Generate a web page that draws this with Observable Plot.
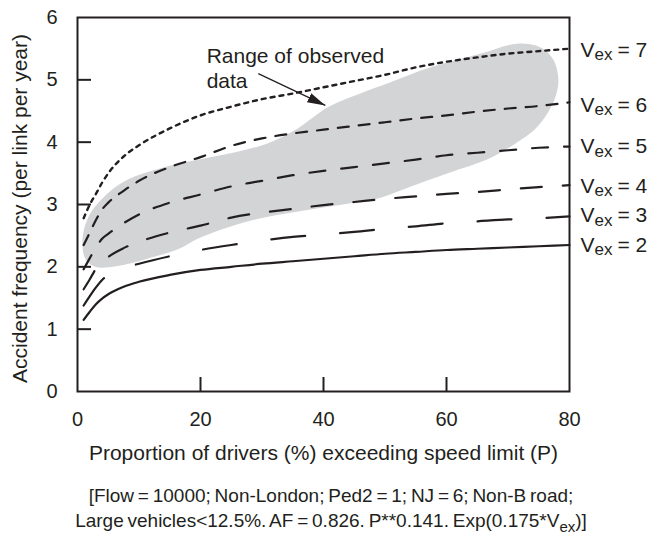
<!DOCTYPE html>
<html><head><meta charset="utf-8">
<script src="https://cdn.jsdelivr.net/npm/d3@7"></script>
<script src="https://cdn.jsdelivr.net/npm/@observablehq/plot@0.6"></script>
<style>
body{margin:0;background:#fff;}
#chart svg{display:block;}
#cap{font-family:"Liberation Sans",Arial,sans-serif;font-size:19px;word-spacing:-1.5px;line-height:25px;text-align:center;color:#231f20;margin-top:13px;width:662px;}
#cap sub{font-size:15px;vertical-align:-5px;line-height:0;word-spacing:0;}
</style></head><body><div id="chart"></div><div id="cap"></div>
<script>
// ---- data ----
const pValues = [1, 2, 3, 4, 5, 7.5, 10, 15, 20, 25, 30, 35, 40, 45, 50, 55, 60, 65, 70, 75, 80];
const vexLevels = [2, 3, 4, 5, 6, 7];
const afVex2 = [1.15, 1.28, 1.40, 1.49, 1.56, 1.68, 1.76, 1.87, 1.95, 2.00, 2.05, 2.09, 2.13, 2.17, 2.21, 2.24, 2.27, 2.29, 2.31, 2.33, 2.35];
const afVex3 = [1.38, 1.53, 1.67, 1.79, 1.87, 1.98, 2.05, 2.17, 2.27, 2.35, 2.42, 2.48, 2.52, 2.56, 2.61, 2.65, 2.70, 2.73, 2.76, 2.78, 2.81];
const afVex4 = [1.64, 1.80, 1.97, 2.08, 2.16, 2.30, 2.40, 2.55, 2.66, 2.79, 2.87, 2.93, 2.99, 3.04, 3.09, 3.13, 3.17, 3.20, 3.24, 3.28, 3.31];
const afVex5 = [1.96, 2.14, 2.31, 2.45, 2.53, 2.70, 2.84, 3.03, 3.16, 3.29, 3.38, 3.47, 3.54, 3.60, 3.66, 3.72, 3.79, 3.83, 3.87, 3.91, 3.93];
const afVex6 = [2.35, 2.55, 2.75, 2.92, 3.03, 3.22, 3.38, 3.60, 3.76, 3.94, 4.06, 4.14, 4.20, 4.26, 4.32, 4.38, 4.43, 4.49, 4.54, 4.58, 4.64];
const afVex7 = [2.78, 3.00, 3.17, 3.35, 3.50, 3.77, 3.95, 4.22, 4.43, 4.57, 4.69, 4.78, 4.88, 4.98, 5.08, 5.20, 5.29, 5.36, 5.42, 5.46, 5.50];
const labelAF = [2.35, 2.82, 3.30, 3.93, 4.60, 5.48];

// outline of "range of observed data" region (P, AF)
const rangeP  = [0.8, 1.1, 2.1, 3.7, 5.9, 8.6, 12.4, 16.7, 21.6, 26.5, 30.9, 35.8, 40.7, 46, 50.9, 57.4, 65.5, 71.5, 75.3, 77.4, 78.2, 77.7, 76.4, 74.5, 72, 67.2, 60.2, 53.7, 49.3, 44.4, 37.9, 28.1, 20, 16.7, 12.4, 7, 2.9, 1.3];
const rangeAF = [2.37, 2.62, 2.86, 3.06, 3.26, 3.42, 3.55, 3.66, 3.76, 3.86, 3.98, 4.22, 4.56, 4.78, 4.96, 5.20, 5.42, 5.58, 5.52, 5.32, 4.99, 4.72, 4.46, 4.22, 4.03, 3.75, 3.50, 3.27, 3.11, 3.02, 2.92, 2.74, 2.47, 2.30, 2.16, 2.02, 2.00, 2.12];

const annotationText = ["Range of observed", "data"];
const annotationP = [21, 21];
const annotationAF = [5.38, 4.98];
const arrowStart = [29.4, 5.10];
const arrowEnd = [40.3, 4.59];

const xTicks = [0, 20, 40, 60, 80];
const yTicks = [0, 1, 2, 3, 4, 5, 6];
const xInnerTicks = [20, 40, 60];
const yInnerTicks = [1, 2, 3, 4, 5];
const xTitle = "Proportion of drivers (%) exceeding speed limit (P)";
const yTitle = "Accident frequency (per link per year)";
const captionLines = ["[Flow = 10000; Non-London; Ped2 = 1; NJ = 6; Non-B road;", "Large vehicles<12.5%. AF = 0.826. P**0.141. Exp(0.175*V<sub>ex</sub>)]"];

// ---- build tables ----
const afSeries = [afVex2, afVex3, afVex4, afVex5, afVex6, afVex7];
const curves = vexLevels.map((v, k) => pValues.map((p, i) => ({vex: v, p, af: afSeries[k][i]})));
const rangeShape = rangeP.map((p, i) => ({p, af: rangeAF[i]}));
const labels = vexLevels.map((v, i) => ({vex: v, af: labelAF[i]}));
const annotations = annotationText.map((t, i) => ({t, p: annotationP[i], af: annotationAF[i]}));

const ink = "#231f20";
const dashStyles = ["none", "34,35", "21,21", "16,16", "11,10", "4,5"];
const font = 20;
const titleFont = 21;

function filledArrow(color) {
  const m = d3.create("svg:marker")
    .attr("viewBox", "-18 -6 20 12")
    .attr("markerWidth", 20)
    .attr("markerHeight", 12)
    .attr("markerUnits", "userSpaceOnUse")
    .attr("orient", "auto")
    .attr("refX", 0).attr("refY", 0)
    .attr("fill", color).attr("stroke", "none");
  m.append("path").attr("d", "M-18,-5L0,0L-18,5Z");
  return m.node();
}

const chart = Plot.plot({
  width: 662,
  height: 470,
  marginTop: 17,
  marginRight: 93,
  marginBottom: 79,
  marginLeft: 77,
  style: {fontFamily: "'Liberation Sans', Arial, sans-serif", fontSize: font + "px", color: ink, background: "#fff"},
  x: {domain: [0, 80]},
  y: {domain: [0, 6]},
  marks: [
    Plot.line(rangeShape, {x: "p", y: "af", fill: "#d3d4d6", stroke: null, curve: "catmull-rom-closed"}),
    ...curves.map((c, k) => Plot.line(c, {x: "p", y: "af", stroke: ink, strokeWidth: k === 5 ? 2.4 : 2.2, strokeDasharray: dashStyles[k], curve: "monotone-x"})),
    Plot.frame({stroke: ink, strokeWidth: 2}),
    Plot.ruleX(xInnerTicks, {x: d => d, y1: 0, y2: 0, insetBottom: 14, stroke: ink, strokeWidth: 2}),
    Plot.ruleY(yInnerTicks, {y: d => d, x1: 0, x2: 0, insetRight: -14, stroke: ink, strokeWidth: 2}),
    Plot.axisX(xTicks, {tickSize: 0, tickPadding: 20, fontSize: font, tickFormat: d => String(d), label: null}),
    Plot.axisY(yTicks, {tickSize: 0, tickPadding: 20, fontSize: font, tickFormat: d => String(d), label: null}),
    Plot.text([xTitle], {frameAnchor: "bottom", textAnchor: "middle", lineAnchor: "middle", dy: 62, fontSize: titleFont, fill: ink}),
    Plot.text([yTitle], {frameAnchor: "left", textAnchor: "middle", lineAnchor: "middle", rotate: -90, dx: -57, dy: 4, fontSize: titleFont, fill: ink}),
    Plot.text(labels, {frameAnchor: "right", y: "af", text: () => "V", textAnchor: "start", lineAnchor: "middle", dx: 11, fontSize: titleFont, fill: ink}),
    Plot.text(labels, {frameAnchor: "right", y: "af", text: () => "ex", textAnchor: "start", lineAnchor: "middle", dx: 25, dy: 5, fontSize: 17, fill: ink}),
    Plot.text(labels, {frameAnchor: "right", y: "af", text: d => "= " + d.vex, textAnchor: "start", lineAnchor: "middle", dx: 48, fontSize: titleFont, fill: ink}),
    Plot.text(annotations, {x: "p", y: "af", text: "t", textAnchor: "start", lineAnchor: "middle", fontSize: titleFont, fill: ink}),
    Plot.link([0], {x1: () => arrowStart[0], y1: () => arrowStart[1], x2: () => arrowEnd[0], y2: () => arrowEnd[1], stroke: ink, strokeWidth: 1.2, markerEnd: filledArrow})
  ]
});
document.getElementById("chart").append(chart);
document.getElementById("cap").innerHTML = captionLines.join("<br>");
</script>
</body></html>
